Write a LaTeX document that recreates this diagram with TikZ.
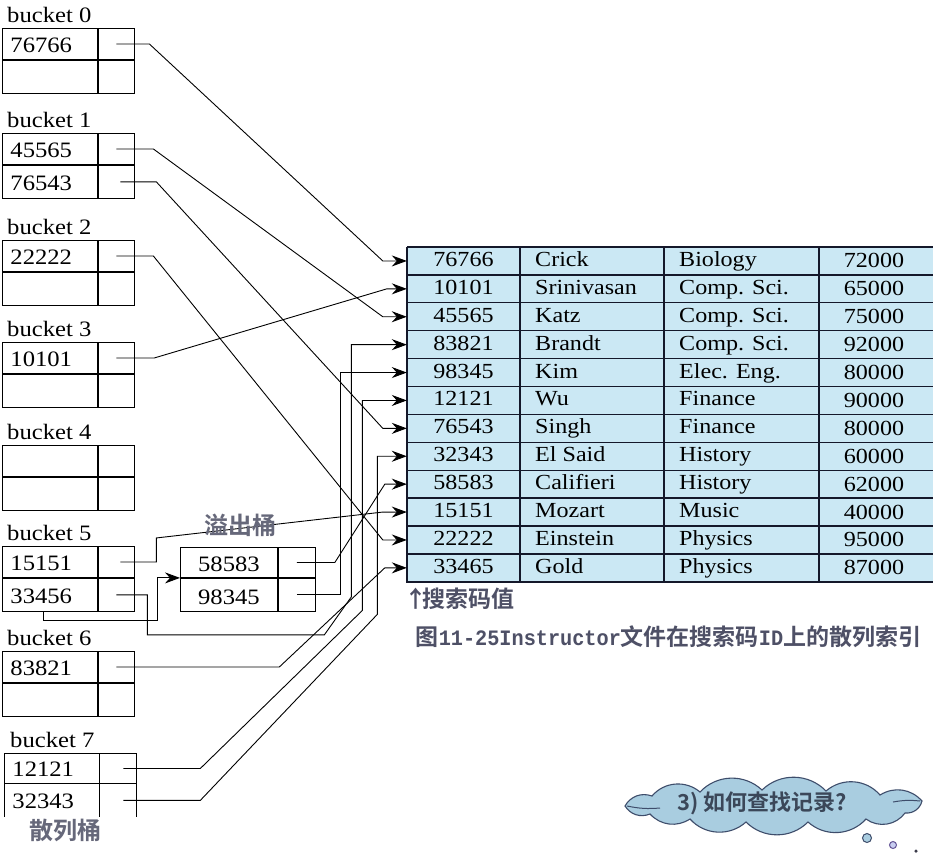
\documentclass[tikz,border=0pt]{standalone}
\usepackage{fontspec}
\setmainfont{Liberation Serif}[FakeStretch=1.12]
\newfontfamily\cjk{Noto Sans CJK SC}[BoldFont={Noto Sans CJK SC Bold}]
\newfontfamily\monof{Liberation Mono}[FakeStretch=0.92]
\usetikzlibrary{arrows.meta}
\definecolor{tabfill}{HTML}{CBE8F4}
\definecolor{tabline}{HTML}{14182A}
\definecolor{cjkgrey}{HTML}{66687A}
\definecolor{capgrey}{HTML}{4E5066}
\definecolor{cloudfill}{HTML}{A9CDE0}
\definecolor{cloudline}{HTML}{3E4D6B}
\definecolor{cloudtext}{HTML}{3B4759}
\tikzset{
  bfont/.style={font=\fontsize{22}{25}\selectfont},
  keycell/.style={draw, line width=0.9pt, anchor=north west, text width=79pt, inner xsep=8pt, inner ysep=0pt, align=left, text height=17pt, text depth=0pt, bfont},
  ptrcell/.style={draw, line width=0.9pt, anchor=north west, minimum width=36pt, inner sep=0pt},
  blabel/.style={anchor=base west, inner sep=0pt, bfont},
  ovkey/.style={draw, line width=0.9pt, anchor=north west, minimum width=97pt, inner sep=0pt, text height=19pt, text depth=0pt, bfont},
  ovptr/.style={draw, line width=0.9pt, anchor=north west, minimum width=37pt, inner sep=0pt},
  idcell/.style={minimum width=113pt, minimum height=27.9pt, inner sep=0pt, text height=15pt, text depth=4pt, font=\fontsize{21.5}{24}\selectfont},
  tcell/.style={inner sep=0pt, text height=15pt, text depth=4pt, font=\fontsize{21.5}{24}\selectfont},
  ptr/.style={line width=0.9pt, -{Stealth[length=15pt,width=11pt,inset=5pt]}},
  cjklab/.style={font=\cjk\bfseries\fontsize{24}{26}\selectfont, text=cjkgrey, inner sep=0pt},
  caplab/.style={font=\cjk\bfseries\fontsize{23}{26}\selectfont, text=capgrey, inner sep=0pt},
  cloudpath/.style={draw=cloudline, fill=cloudfill, line width=1.1pt},
}
\newcommand{\mybucket}[6]{%
  \node[keycell, minimum height=31pt] (#1k1) at (#2,#3) {#5};
  \node[ptrcell, minimum height=31pt] (#1p1) at (#1k1.north east) {};
  \node[keycell, minimum height=33pt] (#1k2) at (#1k1.south west) {#6};
  \node[ptrcell, minimum height=33pt] (#1p2) at (#1k2.north east) {};
  \node[blabel] (#1l) at ([shift={(5pt,6pt)}]#1k1.north west) {#4};
}
\begin{document}
\begin{tikzpicture}[x=1pt,y=-1pt]
\useasboundingbox (0,0) rectangle (940,855);
\fill[white] (0,0) rectangle (940,855);

% hash buckets
\mybucket{b0}{2}{28}{bucket 0}{76766}{}
\mybucket{b1}{2}{133}{bucket 1}{45565}{76543}
\mybucket{b2}{2}{240}{bucket 2}{22222}{}
\mybucket{b3}{2}{342}{bucket 3}{10101}{}
\mybucket{b4}{2}{445}{bucket 4}{}{}
\mybucket{b5}{2}{546}{bucket 5}{15151}{33456}
\mybucket{b6}{2}{651}{bucket 6}{83821}{}
% bucket 7 (open at the bottom)
\node[keycell, draw=none, minimum height=30pt] (b7k1) at (4,753) {12121};
\node[ptrcell, draw=none, minimum height=30pt] (b7p1) at (b7k1.north east) {};
\node[keycell, draw=none, minimum height=32pt] (b7k2) at (b7k1.south west) {32343};
\node[ptrcell, draw=none, minimum height=32pt] (b7p2) at (b7k2.north east) {};
\node[blabel] (b7l) at ([shift={(6pt,6pt)}]b7k1.north west) {bucket 7};
\draw[line width=0.9pt] (b7k2.south west) -- (b7k1.north west) -- (b7p1.north east) -- (b7p2.south east);
\draw[line width=0.9pt] (b7k1.south west) -- (b7p1.south east);
\draw[line width=0.9pt] (b7p1.north west) -- (b7p2.south west);

% overflow bucket
\node[ovkey, minimum height=30pt] (ov1) at (180,547) {58583};
\node[ovptr, minimum height=30pt] (ov1p) at (ov1.north east) {};
\node[ovkey, minimum height=33pt] (ov2) at (ov1.south west) {98345};
\node[ovptr, minimum height=33pt] (ov2p) at (ov2.north east) {};

% file table
\fill[tabfill] (407,247) rectangle (933,582);
\foreach \k in {1,...,11} \draw[tabline, line width=1.3pt] (407,{247+27.9*\k}) -- (933,{247+27.9*\k});
\draw[tabline, line width=1.6pt] (407,247) -- (933,247);
\draw[tabline, line width=2.2pt] (406,582) -- (933,582);
\foreach \xx in {407,520,664,819} \draw[tabline, line width=2.4pt] (\xx,247) -- (\xx,582);
\foreach \i/\rid/\rnm/\rdep/\rsal in {1/76766/Crick/Biology/72000,2/10101/Srinivasan/Comp. Sci./65000,3/45565/Katz/Comp. Sci./75000,4/83821/Brandt/Comp. Sci./92000,5/98345/Kim/Elec. Eng./80000,6/12121/Wu/Finance/90000,7/76543/Singh/Finance/80000,8/32343/El Said/History/60000,9/58583/Califieri/History/62000,10/15151/Mozart/Music/40000,11/22222/Einstein/Physics/95000,12/33465/Gold/Physics/87000}{
  \pgfmathsetmacro\yy{247+27.9*(\i-0.5)}
  \pgfmathsetmacro\ys{\yy+1.5}
  \node[idcell] (id\i) at (463.5,\yy) {\rid};
  \node[tcell, anchor=west] (nm\i) at (535,\yy) {\rnm};
  \node[tcell, anchor=west] (dp\i) at (679,\yy) {\rdep};
  \node[tcell] (sl\i) at (874,\ys) {\rsal};
}

% connectors
\draw[ptr] (b0p1.center) -- ++(33,0) -- ([xshift=-24pt]id1.west) -- (id1.west);
\draw[ptr] (b1p1.center) -- ++(37,0) -- ([xshift=-24pt]id3.west) -- (id3.west);
\draw[ptr] ([xshift=4pt]b1p2.center) -- ++(36,0) -- ([xshift=-24pt]id7.west) -- (id7.west);
\draw[ptr] (b2p1.center) -- ++(37,0) -- ([xshift=-24pt]id11.west) -- (id11.west);
\draw[ptr] (b3p1.center) -- ++(38,0) -- ([xshift=-20pt]id2.west) -- (id2.west);
\draw[ptr] ([xshift=4pt]b5p1.center) -- ++(36,0) -- ++(0,-24) -- ([xshift=-24pt]id10.west) -- (id10.west);
\draw[ptr] (b5p2.center) -- ++(31,0) -- ++(0,40) -- ++(177,0) -- ++(27,-38) |- (id4.west);
\draw[ptr] ([xshift=-7pt]b5k2.south) -- ++(0,9) -| ([xshift=-23pt]ov1.south west) -- (ov1.south west);
\draw[ptr] (ov1p.center) -- ++(38,0) -- ([xshift=-22pt]id9.west) -- (id9.west);
\draw[ptr] (ov2p.center) -- ++(44,0) |- (id5.west);
\draw[ptr] (b6p1.center) -- ++(163,0) -- ([xshift=-22pt]id12.west) -- (id12.west);
\draw[ptr] ([xshift=5pt]b7p1.center) -- ++(77,0) -- ++(162,-158) |- (id6.west);
\draw[ptr] ([xshift=5pt]b7p2.center) -- ++(77,0) -- ++(177,-186) |- (id8.west);

% labels
\node[cjklab] (ovl) at (240,525) {溢出桶};
\node[cjklab] (hbl) at (65,830) {散列桶};
\node[caplab, anchor=west] (skl) at (410,599) {\makebox[12pt][c]{↑}搜索码值};
\node[caplab] (cap) at (668.5,637) {图{\monof\bfseries\fontsize{22}{24}\selectfont 11-25Instructor}文件在搜索码{\monof\bfseries\fontsize{22}{24}\selectfont ID}上的散列索引};

% thought cloud
\path[cloudpath] (625,806)
  to[bend left=40] (652,796)
  to[bend left=45] (700,792)
  to[bend left=45] (762,790)
  to[bend left=45] (826,791)
  to[bend left=45] (880,795)
  to[bend left=40] (922,801)
  to[bend left=40] (905,813)
  to[bend left=45] (866,819)
  to[bend left=45] (808,822)
  to[bend left=45] (746,822)
  to[bend left=45] (690,819)
  to[bend left=40] (650,814)
  to[bend left=40] (625,806) -- cycle;
\draw[cloudline, line width=1pt] (627,806) to[bend right=8] (660,808);
\draw[cloudline, line width=1pt] (893,802) to[bend left=8] (920,801);
\node[font=\cjk\bfseries\fontsize{22}{24}\selectfont, text=cloudtext, inner sep=0pt] (q) at (762,803) {3) 如何查找记录?};
\node[circle, draw=cloudline, fill=cloudfill, line width=1pt, minimum size=9pt, inner sep=0pt] (c1) at (867,838) {};
\node[circle, draw={rgb,255:red,100;green,85;blue,150}, fill={rgb,255:red,200;green,205;blue,240}, line width=1pt, minimum size=7pt, inner sep=0pt] (c2) at (893,845) {};
\node[circle, fill={rgb,255:red,60;green,60;blue,75}, minimum size=3.5pt, inner sep=0pt] (c3) at (916,851) {};
\end{tikzpicture}
\end{document}
